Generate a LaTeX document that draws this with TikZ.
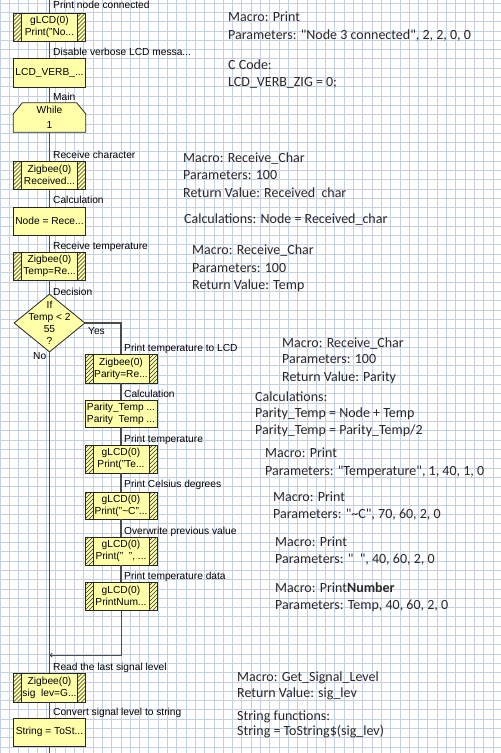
\documentclass[tikz,border=0pt]{standalone}
\usepackage{fontspec}
\setmainfont{Liberation Sans}
\newfontfamily\calib{Carlito}
\usetikzlibrary{shapes.geometric,arrows.meta}
\pgfdeclarelayer{gridlayer}
\pgfdeclarelayer{shapelayer}
\pgfsetlayers{gridlayer,shapelayer,main}
\definecolor{gridc}{RGB}{196,208,234}
\definecolor{boxy}{RGB}{255,255,170}
\definecolor{linec}{RGB}{75,75,75}
\definecolor{notec}{RGB}{40,40,40}
\tikzset{
  fc/.style={font=\fontsize{10.2}{12}\selectfont},
  gridline/.style={draw=gridc, line width=0.7pt},
  hatchl/.style={draw=black!80, line width=0.5pt},
  box/.style={draw=black!85, fill=boxy, line width=0.8pt, minimum width=72pt,
    minimum height=28pt, inner sep=0pt, align=center, fc},
  hbox/.style={box, path picture={
    \begin{scope}
      \clip (path picture bounding box.south west) rectangle ([xshift=8pt]path picture bounding box.north west);
      \foreach \k in {-36,-32,...,8} \draw[hatchl] ([xshift=\k pt]path picture bounding box.south west) -- ++(36,-36);
    \end{scope}
    \begin{scope}
      \clip ([xshift=-8pt]path picture bounding box.south east) rectangle (path picture bounding box.north east);
      \foreach \k in {-44,-40,...,0} \draw[hatchl] ([xshift=\k pt]path picture bounding box.south east) -- ++(36,-36);
    \end{scope}
    \draw[black!85, line width=0.8pt] ([xshift=8pt]path picture bounding box.south west) -- ([xshift=8pt]path picture bounding box.north west);
    \draw[black!85, line width=0.8pt] ([xshift=-8pt]path picture bounding box.south east) -- ([xshift=-8pt]path picture bounding box.north east);
  }},
  dia/.style={shape=diamond, draw=black!85, fill=boxy, line width=0.8pt, inner sep=0pt,
    minimum width=71pt, minimum height=58pt},
  lbl/.style={anchor=base west, inner sep=0pt, fc},
  note/.style={anchor=base west, inner sep=0pt, text=notec, font=\calib\fontsize{14}{17}\selectfont},
  conn/.style={draw=linec, line width=1.2pt},
}
\begin{document}
\begin{tikzpicture}[x=1pt, y=-1pt]
\useasboundingbox (0,0) rectangle (501,753);
\begin{pgfonlayer}{gridlayer}
  \fill[white] (0,0) rectangle (501,753);
  \foreach \i in {0,...,54} \draw[gridline] (\i*9.3,0) -- (\i*9.3,753);
  \foreach \j in {0,...,81} \draw[gridline] (0,3+\j*9.3) -- (501,3+\j*9.3);
\end{pgfonlayer}

% main column
\coordinate (top) at (49.5,0);
\node[hbox] (b1) at (49.5,27) {gLCD(0)\\Print("No...};
\node[box, minimum height=29pt] (b2) at (49.5,72.5) {LCD\_VERB\_...};
\node[fc, align=center, minimum width=72pt, minimum height=29pt, inner sep=0pt,
  font=\fontsize{10.2}{15}\selectfont] (wh) at (49.5,117.5) {While\\1};
\begin{pgfonlayer}{shapelayer}
  \filldraw[draw=black!85, fill=boxy, line width=0.8pt]
    (wh.south west) -- ([yshift=-11pt]wh.north west) -- ([xshift=9pt]wh.north west)
    -- ([xshift=-9pt]wh.north east) -- ([yshift=-11pt]wh.north east) -- (wh.south east) -- cycle;
\end{pgfonlayer}
\node[hbox] (b3) at (49.5,175) {Zigbee(0)\\Received...};
\node[box] (b4) at (49.5,221) {Node = Rece...};
\node[hbox] (b5) at (49.5,266) {Zigbee(0)\\Temp=Re...};
\node[dia, label={[fc, align=center]center:{If\\Temp < 2\\55\\?}}] (dec) at (49.5,323) {};
\coordinate (merge) at (49.5,655);
\node[hbox, minimum height=29pt] (b12) at (49.5,687.5) {Zigbee(0)\\sig\ \ lev=G...};
\node[box] (b13) at (49.5,732) {String = ToSt...};
\coordinate (bottom) at (49.5,753);

% right branch
\node[hbox, minimum height=29pt] (b6) at (121,368.5) {Zigbee(0)\\Parity=Re...};
\node[box, minimum height=27pt] (b7) at (121,413.5) {Parity\_Temp ...\\Parity\ \ Temp ...};
\node[hbox] (b8) at (121,459) {gLCD(0)\\Print("Te...};
\node[hbox, minimum height=27pt] (b9) at (121,505.5) {gLCD(0)\\Print("\textasciitilde C"...};
\node[hbox] (b10) at (121,551) {gLCD(0)\\Print("\ \ ", ...};
\node[hbox] (b11) at (121,596) {gLCD(0)\\PrintNum...};

% connectors
\draw[conn] (top) -- (b1);
\draw[conn] (b1) -- (b2);
\draw[conn] (b2) -- (wh);
\draw[conn] (wh) -- (b3);
\draw[conn] (b3) -- (b4);
\draw[conn] (b4) -- (b5);
\draw[conn] (b5) -- (dec);
\draw[conn] (dec.south) -- (merge) -- (b12);
\draw[conn] (b12) -- (b13);
\draw[conn] (b13) -- (bottom);
\draw[conn] (dec.east) -| (b6.north);
\draw[conn] (b6) -- (b7);
\draw[conn] (b7) -- (b8);
\draw[conn] (b8) -- (b9);
\draw[conn] (b9) -- (b10);
\draw[conn] (b10) -- (b11);
\draw[conn, line width=1pt, -{Straight Barb[length=2pt,width=4pt]}] (b11.south) |- (merge);

% flowchart labels
\node[lbl] (l1) at (53,8.5) {Print node connected};
\node[lbl] (l2) at (53,55.5) {Disable verbose LCD messa...};
\node[lbl] (l3) at (53,100.5) {Main};
\node[lbl] (l4) at (53,158.5) {Receive character};
\node[lbl] (l5) at (53,203.5) {Calculation};
\node[lbl] (l6) at (53,249.5) {Receive temperature};
\node[lbl] (l7) at (53,295.5) {Decision};
\node[lbl] (l8) at (88,334.5) {Yes};
\node[lbl] (l9) at (33,359.5) {No};
\node[lbl] (l10) at (124,351.5) {Print temperature to LCD};
\node[lbl] (l11) at (124,397.5) {Calculation};
\node[lbl] (l12) at (124,442.5) {Print temperature};
\node[lbl] (l13) at (124,487.5) {Print Celsius degrees};
\node[lbl] (l14) at (124,534.5) {Overwrite previous value};
\node[lbl] (l15) at (124,579.5) {Print temperature data};
\node[lbl] (l16) at (53,670.5) {Read the last signal level};
\node[lbl] (l17) at (53,715.5) {Convert signal level to string};

% notes
\node[note] (n1) at (228,21.5) {Macro: Print};
\node[note] (n2) at (228,39.5) {Parameters: "Node 3 connected", 2, 2, 0, 0};
\node[note] (n3) at (228,69.5) {C Code:};
\node[note] (n4) at (228,86.5) {LCD\_VERB\_ZIG = 0;};
\node[note] (n5) at (183,162.5) {Macro: Receive\_Char};
\node[note] (n6) at (183,179.5) {Parameters: 100};
\node[note] (n7) at (183,197.5) {Return Value: Received\ \ char};
\node[note] (n8) at (184,223.5) {Calculations: Node = Received\_char};
\node[note] (n9) at (192,254.5) {Macro: Receive\_Char};
\node[note] (n10) at (192,272.5) {Parameters: 100};
\node[note] (n11) at (192,289.5) {Return Value: Temp};
\node[note] (n12) at (282,347.5) {Macro: Receive\_Char};
\node[note] (n13) at (282,363.5) {Parameters: 100};
\node[note] (n14) at (282,381.5) {Return Value: Parity};
\node[note] (n15) at (255,401.5) {Calculations:};
\node[note] (n16) at (255,417.5) {Parity\_Temp = Node + Temp};
\node[note] (n17) at (255,434.5) {Parity\_Temp = Parity\_Temp/2};
\node[note] (n18) at (265,457.5) {Macro: Print};
\node[note] (n19) at (265,475.5) {Parameters: "Temperature", 1, 40, 1, 0};
\node[note] (n20) at (273,501.5) {Macro: Print};
\node[note] (n21) at (273,518) {Parameters: "\textasciitilde C", 70, 60, 2, 0};
\node[note] (n22) at (275,546.5) {Macro: Print};
\node[note] (n23) at (275,563) {Parameters: "\ \ ", 40, 60, 2, 0};
\node[note] (n24) at (275,592.5) {Macro: Print\textbf{Number}};
\node[note] (n25) at (275,609.5) {Parameters: Temp, 40, 60, 2, 0};
\node[note] (n26) at (237,681.5) {Macro: Get\_Signal\_Level};
\node[note] (n27) at (237,697.5) {Return Value: sig\_lev};
\node[note] (n28) at (237,720.5) {String functions:};
\node[note] (n29) at (237,735.5) {String = ToString\$(sig\_lev)};
\end{tikzpicture}
\end{document}
